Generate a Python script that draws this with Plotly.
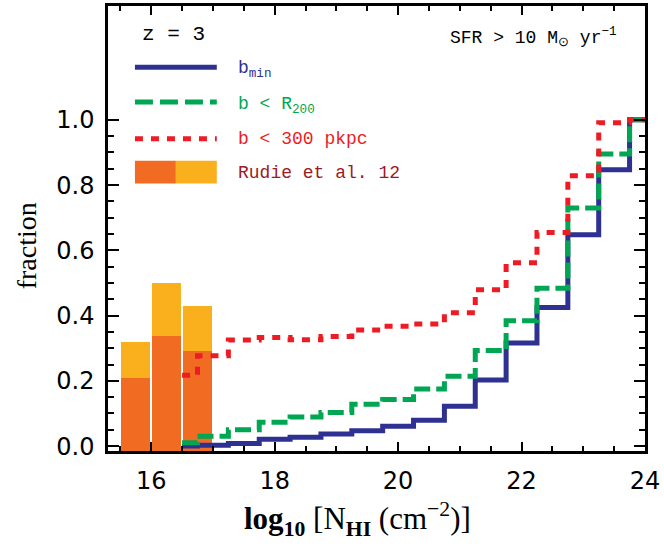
import plotly.graph_objects as go

# ---------------- data ----------------
nhi_centers = [16.5, 17.0, 17.5, 18.0, 18.5, 19.0, 19.5, 20.0,
               20.5, 21.0, 21.5, 22.0, 22.5, 23.0, 23.5, 24.0]
frac_bmin = [0.000, 0.003, 0.008, 0.021, 0.027, 0.037, 0.047, 0.061,
             0.079, 0.122, 0.203, 0.316, 0.425, 0.648, 0.847, 1.0]
frac_r200 = [0.010, 0.030, 0.050, 0.073, 0.089, 0.103, 0.128, 0.143,
             0.175, 0.214, 0.293, 0.384, 0.484, 0.730, 0.895, 1.0]
frac_300 = [0.217, 0.277, 0.325, 0.333, 0.326, 0.336, 0.356, 0.367,
            0.374, 0.409, 0.479, 0.562, 0.655, 0.829, 0.991, 1.0]

rudie_x = [15.75, 16.25, 16.75]
rudie_lower = [0.208, 0.338, 0.291]
rudie_upper = [0.320, 0.500, 0.430]

x_ticks = [16, 18, 20, 22, 24]
y_ticks = [0.0, 0.2, 0.4, 0.6, 0.8, 1.0]
y_tick_text = ["0.0", "0.2", "0.4", "0.6", "0.8", "1.0"]

# ---------------- style ----------------
BLUE = "#2E3192"
GREEN = "#00A651"
RED = "#ED1C24"
ORANGE = "#F26B23"
YELLOW = "#FAAF1C"
DARKRED = "#9B1B1E"

Y_MIN, Y_MAX = -0.015, 1.349
X_MIN, X_MAX = 15.3, 24.0

W, H = 664, 546
L, R, T, B = 108, 18, 3.5, 95
X0, X1 = L, W - R
Y0, Y1 = T, H - B


def px(xp):
    return (xp - X0) / (X1 - X0)


def py(yp):
    return (Y1 - yp) / (Y1 - Y0)


fig = go.Figure()

# bars start at the bottom axis
fig.add_trace(go.Bar(x=rudie_x, y=[v - Y_MIN for v in rudie_upper],
                     base=Y_MIN, width=0.47,
                     marker=dict(color=YELLOW, line=dict(width=0)),
                     showlegend=False))
fig.add_trace(go.Bar(x=rudie_x, y=[v - Y_MIN for v in rudie_lower],
                     base=Y_MIN, width=0.47,
                     marker=dict(color=ORANGE, line=dict(width=0)),
                     showlegend=False))

fig.add_trace(go.Scatter(x=nhi_centers, y=frac_bmin, mode="lines",
                         line=dict(color=BLUE, width=5, shape="hvh"),
                         showlegend=False))
fig.add_trace(go.Scatter(x=nhi_centers, y=frac_r200, mode="lines",
                         line=dict(color=GREEN, width=5, shape="hvh",
                                   dash="16px,6px"),
                         showlegend=False))
fig.add_trace(go.Scatter(x=nhi_centers, y=frac_300, mode="lines",
                         line=dict(color=RED, width=5, shape="hvh",
                                   dash="8px,8px"),
                         showlegend=False))

# ---------------- legend (drawn) ----------------
shapes = []
shapes.append(dict(type="line", xref="paper", yref="paper",
                   x0=px(135), x1=px(217), y0=py(65), y1=py(65),
                   line=dict(color=BLUE, width=5)))
shapes.append(dict(type="line", xref="paper", yref="paper",
                   x0=px(135), x1=px(217), y0=py(100), y1=py(100),
                   line=dict(color=GREEN, width=5, dash="18px,7px")))
shapes.append(dict(type="line", xref="paper", yref="paper",
                   x0=px(135), x1=px(217), y0=py(137), y1=py(137),
                   line=dict(color=RED, width=5, dash="8px,8px")))
shapes.append(dict(type="rect", xref="paper", yref="paper",
                   x0=px(135), x1=px(176), y0=py(182), y1=py(159),
                   fillcolor=ORANGE, line=dict(width=0)))
shapes.append(dict(type="rect", xref="paper", yref="paper",
                   x0=px(176), x1=px(217), y0=py(182), y1=py(159),
                   fillcolor=YELLOW, line=dict(width=0)))

MONO = "Liberation Mono"
SERIF = "Liberation Serif"
ann = []


def label(text, xp, yp, color, size=18, font=MONO, xanchor="left"):
    ann.append(dict(text=text, xref="paper", yref="paper",
                    x=px(xp), y=py(yp), xanchor=xanchor, yanchor="middle",
                    showarrow=False,
                    font=dict(family=font, size=size, color=color)))


label("z = 3", 140, 32, "black", size=21)
label("SFR > 10 M<sub>⊙</sub> yr<sup>−1</sup>", 620, 35, "black", size=18,
      xanchor="right")
label("b<sub>min</sub>", 236, 67, BLUE)
label("b < R<sub>200</sub>", 236, 104, GREEN)
label("b < 300 pkpc", 236, 137, RED)
label("Rudie et al. 12", 236, 171, DARKRED)

# axis titles
ann.append(dict(text="fraction", xref="paper", yref="paper",
                x=px(26), y=py(245), xanchor="center", yanchor="middle",
                textangle=-90, showarrow=False,
                font=dict(family=SERIF, size=28, color="black")))
ann.append(dict(text="<b>log<sub>10</sub></b> [N<sub><b>HI</b></sub> (cm<sup>−2</sup>)]",
                xref="paper", yref="paper",
                x=px(358), y=py(519), xanchor="center", yanchor="middle",
                showarrow=False,
                font=dict(family=SERIF, size=31, color="black")))

axis_common = dict(showline=True, linewidth=2.5, linecolor="black",
                   mirror="allticks", ticks="inside", tickcolor="black",
                   tickwidth=2, showgrid=False, zeroline=False,
                   tickfont=dict(family="DejaVu Sans", size=24,
                                 color="black"))

fig.update_layout(
    width=W, height=H,
    margin=dict(l=L, r=R, t=T, b=B),
    paper_bgcolor="white", plot_bgcolor="white",
    barmode="overlay", bargap=0,
    shapes=shapes, annotations=ann,
    xaxis=dict(range=[X_MIN, X_MAX], tickmode="array", tickvals=x_ticks,
               ticktext=[str(v) for v in x_ticks], ticklen=9,
               ticklabelstandoff=6,
               minor=dict(tickmode="linear", tick0=15.5, dtick=0.5,
                          ticklen=5, tickwidth=2, tickcolor="black",
                          ticks="inside"),
               **axis_common),
    yaxis=dict(range=[Y_MIN, Y_MAX], tickmode="array", tickvals=y_ticks,
               ticktext=y_tick_text, ticklen=11,
               ticklabelstandoff=6,
               minor=dict(tickmode="array",
                          tickvals=[0.05, 0.1, 0.15, 0.25, 0.3, 0.35, 0.45,
                                    0.5, 0.55, 0.65, 0.7, 0.75, 0.85, 0.9,
                                    0.95],
                          ticklen=6, tickwidth=2, tickcolor="black",
                          ticks="inside"),
               **axis_common),
)

fig.write_html("out.html")
